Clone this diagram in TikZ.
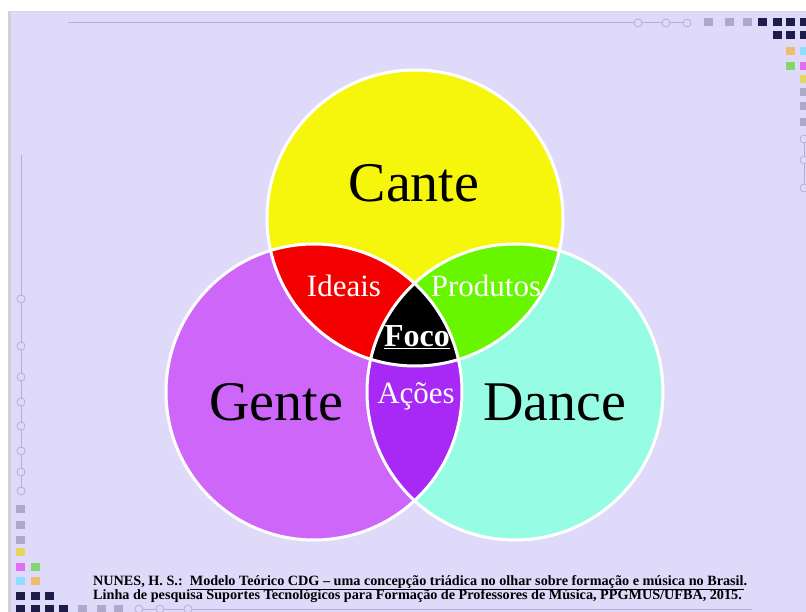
\documentclass[tikz,border=0pt]{standalone}
\usepackage{fontspec}
\setmainfont{Liberation Serif}
\definecolor{fundo}{RGB}{224,218,250}
\definecolor{cante}{RGB}{246,246,12}
\definecolor{gente}{RGB}{207,102,250}
\definecolor{dance}{RGB}{150,252,228}
\definecolor{ideais}{RGB}{245,0,0}
\definecolor{produtos}{RGB}{104,245,0}
\definecolor{acoes}{RGB}{168,40,245}
\definecolor{linha}{RGB}{180,176,208}
\definecolor{marinho}{RGB}{30,28,72}
\definecolor{cinza}{RGB}{172,170,200}
\definecolor{laranja}{RGB}{235,190,110}
\definecolor{ciano}{RGB}{140,222,250}
\definecolor{verde}{RGB}{130,215,110}
\definecolor{magenta}{RGB}{225,110,240}
\definecolor{amarelo}{RGB}{228,216,92}
\tikzset{
  anel/.style={draw=white, line width=3pt},
  grande/.style={anchor=base, font=\fontsize{56}{60}\selectfont},
  pequeno/.style={anchor=base, text=white, font=\fontsize{31}{34}\selectfont},
  citacao/.style={anchor=base west, inner sep=0pt, font=\bfseries\fontsize{14.2}{15}\selectfont},
  bolinha/.style={draw=linha, fill=fundo, line width=0.8pt},
}
\newcommand{\quadrado}[3]{\fill[#1] (#2-4.5,#3-4) rectangle ++(9,8);}

\begin{document}
\begin{tikzpicture}[x=1pt,y=-1pt]
\useasboundingbox (0,0) rectangle (806,612);
\fill[white] (0,0) rectangle (806,612);
\fill[fundo] (10,12) rectangle (806,612);
\fill[black!18] (8,12) rectangle (11,612);
\draw[black!15, line width=1pt] (8,12) -- (806,12);

% moldura
\draw[linha, line width=1pt] (68,23) -- (687,23);
\foreach \x in {638,666,687} \draw[bolinha] (\x,23) circle (4);
\draw[linha, line width=1pt] (21,155) -- (21,491);
\foreach \y in {299,346,377,402,426,451,472,491} \draw[bolinha] (21,\y) circle (4);
\draw[linha, line width=1pt] (139,609) -- (752,609);
\foreach \x in {139,160,188} \draw[bolinha] (\x,609) circle (4);
\draw[linha, line width=1pt] (804,139) -- (804,188);
\foreach \y in {139,160,188} \draw[bolinha] (804,\y) circle (4);
\foreach \x in {708,729,747} {\quadrado{cinza}{\x}{22}}
\foreach \x in {762,777,790,804} {\quadrado{marinho}{\x}{22}}
\foreach \x in {777,790,804} {\quadrado{marinho}{\x}{35}}
\quadrado{laranja}{790}{51} \quadrado{ciano}{804}{51}
\quadrado{verde}{790}{66} \quadrado{magenta}{804}{66}
\quadrado{amarelo}{804}{79}
\foreach \y in {92,106,122} {\quadrado{cinza}{804}{\y}}
\foreach \y in {509,525,540} {\quadrado{cinza}{20}{\y}}
\quadrado{amarelo}{20}{552}
\quadrado{magenta}{20}{567} \quadrado{verde}{35}{567}
\quadrado{ciano}{20}{581} \quadrado{laranja}{35}{581}
\foreach \x in {20,35,49} {\quadrado{marinho}{\x}{596}}
\foreach \x in {20,35,49,63} {\quadrado{marinho}{\x}{609}}
\foreach \x in {82,101,118} {\quadrado{cinza}{\x}{609}}

% circulos
\def\r{148}
\coordinate (C) at (415,218);
\coordinate (G) at (314,392);
\coordinate (D) at (515,392);
\fill[cante] (C) circle (\r);
\fill[gente] (G) circle (\r);
\fill[dance] (D) circle (\r);
\begin{scope}
  \clip (C) circle (\r);
  \fill[ideais] (G) circle (\r);
  \fill[produtos] (D) circle (\r);
\end{scope}
\begin{scope}
  \clip (G) circle (\r);
  \fill[acoes] (D) circle (\r);
  \clip (C) circle (\r);
  \fill[black] (D) circle (\r);
\end{scope}
\foreach \c in {C,G,D} \draw[anel] (\c) circle (\r);

\node[grande] (cante) at (414,202) {Cante};
\node[grande] (gente) at (276,420) {Gente};
\node[grande] (dance) at (555,420) {Dance};
\node[pequeno] (ideais) at (344,297) {Ideais};
\node[pequeno] (produtos) at (486,297) {Produtos};
\node[pequeno] (acoes) at (416,403) {Ações};
\node[pequeno, font=\bfseries\fontsize{32}{34}\selectfont] (foco) at (417,346) {\underline{Foco}};

% referencia
\node[citacao] (ref1) at (93,585)
  {NUNES, H. S.:\ \ \underline{Modelo Teórico CDG – uma concepção triádica no olhar sobre formação e música no Brasil}.};
\node[citacao] (ref2) at (93,599)
  {Linha de pesquisa Suportes Tecnológicos para Formação de Professores de Música, PPGMUS/UFBA, 2015.};
\end{tikzpicture}
\end{document}
